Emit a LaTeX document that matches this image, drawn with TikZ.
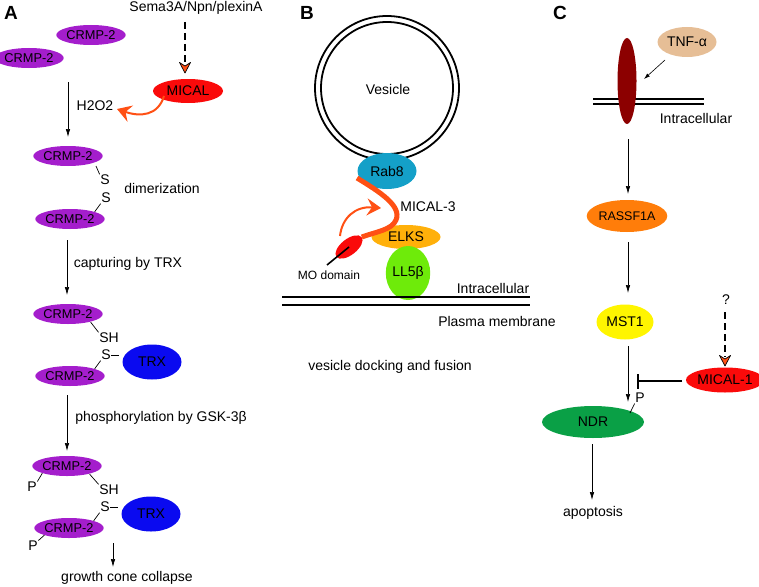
\documentclass[tikz,border=0pt]{standalone}
\usepackage{fontspec}
\setmainfont{Liberation Sans}
\usetikzlibrary{shapes.geometric,arrows.meta}
\definecolor{crmp}{RGB}{164,30,204}
\definecolor{trx}{RGB}{10,10,240}
\definecolor{mical}{RGB}{250,10,10}
\definecolor{oarrow}{RGB}{255,80,20}
\definecolor{rab}{RGB}{20,160,200}
\definecolor{elks}{RGB}{255,176,10}
\definecolor{ll}{RGB}{110,235,10}
\definecolor{tnf}{RGB}{230,190,150}
\definecolor{rec}{RGB}{140,0,0}
\definecolor{rass}{RGB}{255,125,10}
\definecolor{mst}{RGB}{255,245,0}
\definecolor{ndr}{RGB}{10,160,70}
\tikzset{
  prot/.style={ellipse,inner sep=0pt,font=\fontsize{14}{14}\selectfont},
  crmpnode/.style={prot,fill=crmp,minimum width=59pt,minimum height=20pt,font=\fontsize{12.8}{12.8}\selectfont},
  trxnode/.style={prot,fill=trx,minimum width=59pt,minimum height=35pt},
  lbl/.style={inner sep=1pt,font=\fontsize{14}{14}\selectfont},
  slbl/.style={inner sep=0.5pt,font=\fontsize{14}{14}\selectfont},
  panel/.style={inner sep=0pt,font=\fontsize{19}{19}\selectfont\bfseries},
  arr/.style={-{Latex[length=8pt,width=4.5pt]},line width=0.7pt},
  bond/.style={line width=0.7pt},
  dashln/.style={line width=1.8pt,dash pattern=on 7pt off 4pt},
  kite/.style={fill=oarrow,draw=black,line width=0.7pt,line join=round},
  curvarr/.style={oarrow,line width=2pt,-{Stealth[length=14pt,width=17pt,inset=5pt]}},
  memb/.style={line width=1.8pt}
}
\begin{document}
\begin{tikzpicture}[x=1pt,y=-1pt]
\useasboundingbox (0,0) rectangle (759,586);
% ---------- Panel A ----------
\node[panel] (pA) at (11,13) {A};
\node[lbl] (sema) at (196,8) {Sema3A/Npn/plexinA};
\node[crmpnode] (c0a) at (91,35) {CRMP-2};
\node[crmpnode] (c0b) at (29,58) {CRMP-2};
\node[prot,fill=mical,minimum width=70pt,minimum height=24pt] (mical) at (188,91) {MICAL};
\coordinate (semaEnd) at (185,22);
\coordinate (semaMid) at (185,64);
\draw[dashln] (semaEnd) -- (semaMid);
\filldraw[kite] (185,73) -- (179.5,62.5) -- (185,66) -- (190.5,62.5) -- cycle;
\node[lbl] (h2o2) at (95,106) {H2O2};
\coordinate (micalL) at (164,96);
\coordinate (h2tip) at (117,109);
\draw[curvarr] (micalL) .. controls (158,116) and (140,117) .. (h2tip);
\coordinate (a1s) at (68,82);
\coordinate (a1e) at (68,137);
\draw[arr] (a1s) -- (a1e);
\node[crmpnode] (c1a) at (68,156) {CRMP-2};
\node[slbl] (s1a) at (105,180) {S};
\node[slbl] (s1b) at (106,198) {S};
\node[crmpnode] (c1b) at (70,219) {CRMP-2};
\draw[bond] (96,166) -- (s1a.north west);
\draw[bond] (s1b.south west) -- (c1b.north east);
\node[lbl] (dim) at (162,188) {dimerization};
\coordinate (a2s) at (67,240);
\coordinate (a2e) at (67,295);
\draw[arr] (a2s) -- (a2e);
\node[lbl] (capt) at (128,264) {capturing by TRX};
\node[crmpnode] (c2a) at (68,314) {CRMP-2};
\node[slbl] (sh2) at (109,338) {SH};
\node[slbl] (s2) at (106,355) {S};
\node[trxnode] (trx2) at (152,362) {TRX};
\node[crmpnode] (c2b) at (70,376) {CRMP-2};
\draw[bond] (c2a.south east) ++(-2,1) -- (sh2.north west);
\draw[bond] (s2.east) -- ++(8,0);
\draw[bond] (s2.south west) -- (c2b.north east);
\coordinate (a3s) at (67,395);
\coordinate (a3e) at (67,451);
\draw[arr] (a3s) -- (a3e);
\node[lbl] (phos) at (161,418) {phosphorylation by GSK-3β};
\node[crmpnode] (c3a) at (67,466) {CRMP-2};
\node[slbl] (p3a) at (32,487) {P};
\node[slbl] (sh3) at (109,490) {SH};
\node[slbl] (s3) at (105,507) {S};
\node[trxnode] (trx3) at (151,514) {TRX};
\node[crmpnode] (c3b) at (69,528) {CRMP-2};
\node[slbl] (p3b) at (33,546) {P};
\draw[bond] (p3a.north east) -- (c3a.south west);
\draw[bond] (c3a.south east) ++(-2,1) -- (sh3.north west);
\draw[bond] (s3.east) -- ++(8,0);
\draw[bond] (s3.south west) -- (c3b.north east);
\draw[bond] (p3b.north east) -- (c3b.south west);
\coordinate (a4s) at (113,543);
\coordinate (a4e) at (113,567);
\draw[arr] (a4s) -- (a4e);
\node[lbl] (gcc) at (127,578) {growth cone collapse};
% ---------- Panel B ----------
\node[panel] (pB) at (307,13) {B};
\draw[line width=1.8pt] (387,88) circle[radius=72];
\draw[line width=1.8pt] (387,88) circle[radius=66];
\node[lbl] (ves) at (388,89) {Vesicle};
\node[prot,fill=rab,minimum width=59pt,minimum height=36pt] (rab) at (387,171) {Rab8};
\node[prot,fill=elks,minimum width=69pt,minimum height=24pt] (elks) at (406,237) {ELKS};
\node[prot,fill=ll,minimum width=36pt,minimum height=54pt] (ll5) at (408,273) {LL5β};
\node[prot,fill=mical,minimum width=32pt,minimum height=16pt,rotate=38] (mo) at (349,247) {};
\coordinate (rabL) at (357,178);
\draw[oarrow,line width=5pt] (rabL) .. controls (380,192) and (402,206) .. (396,220) .. controls (392,230) and (375,232) .. (mo.east);
\draw[line width=1.6pt] (mo.center) -- (327,265);
\node[inner sep=1pt,font=\fontsize{12}{12}\selectfont] (modom) at (329,275) {MO domain};
\coordinate (moArrS) at (340,236);
\coordinate (moArrE) at (381,208);
\draw[curvarr] (moArrS) .. controls (342,218) and (355,206) .. (moArrE);
\node[lbl] (mical3) at (428,207) {MICAL-3};
\draw[memb] (282,297) -- (530,297);
\draw[memb] (282,305) -- (530,305);
\node[lbl] (intraB) at (493,288) {Intracellular};
\node[lbl] (plasma) at (497,321) {Plasma membrane};
\node[lbl] (vdf) at (390,367) {vesicle docking and fusion};
% ---------- Panel C ----------
\node[panel] (pC) at (560,13) {C};
\node[prot,fill=tnf,minimum width=59pt,minimum height=30pt] (tnf) at (687,42) {TNF-α};
\draw[memb] (593,99) -- (704,99);
\draw[memb] (593,104) -- (704,104);
\node[prot,fill=rec,minimum width=19pt,minimum height=86pt] (rec) at (627,81) {};
\coordinate (tnfS) at (665,60);
\coordinate (tnfE) at (644,79);
\draw[-{Latex[length=6pt,width=4pt]},line width=0.6pt] (tnfS) -- (tnfE);
\node[lbl] (intraC) at (696,118) {Intracellular};
\node[prot,fill=rass,minimum width=70pt,minimum height=32pt,font=\fontsize{12.5}{12.5}\selectfont] (rass) at (627,216) {RASSF1A};
\coordinate (c1s) at (628,139);
\coordinate (c1e) at (628,194);
\draw[arr] (c1s) -- (c1e);
\node[prot,fill=mst,minimum width=57pt,minimum height=35pt] (mst) at (625,322) {MST1};
\coordinate (r1s) at (628,242);
\coordinate (r1e) at (628,293);
\draw[arr] (r1s) -- (r1e);
\node[lbl] (q) at (726,300) {?};
\node[prot,fill=mical,minimum width=69pt,minimum height=25pt] (mical1) at (725,380) {MICAL-1};
\coordinate (qS) at (725,312);
\coordinate (qM) at (725,357);
\draw[dashln] (qS) -- (qM);
\filldraw[kite] (725,366) -- (719.5,355.5) -- (725,359) -- (730.5,355.5) -- cycle;
\node[prot,fill=ndr,minimum width=102pt,minimum height=32pt] (ndr) at (593,422) {NDR};
\coordinate (m2s) at (628,346);
\coordinate (m2e) at (628,402);
\draw[arr] (m2s) -- (m2e);
\coordinate (inhS) at (682,381);
\coordinate (inhE) at (637,381);
\draw[line width=1.5pt,-{Bar[width=15pt,line width=1.5pt]}] (inhS) -- (inhE);
\node[slbl] (pC1) at (640,398) {P};
\draw[bond] (pC1.south west) -- (630,413);
\coordinate (n1s) at (592,444);
\coordinate (n1e) at (592,500);
\draw[arr] (n1s) -- (n1e);
\node[lbl] (apo) at (593,513) {apoptosis};
\end{tikzpicture}
\end{document}
